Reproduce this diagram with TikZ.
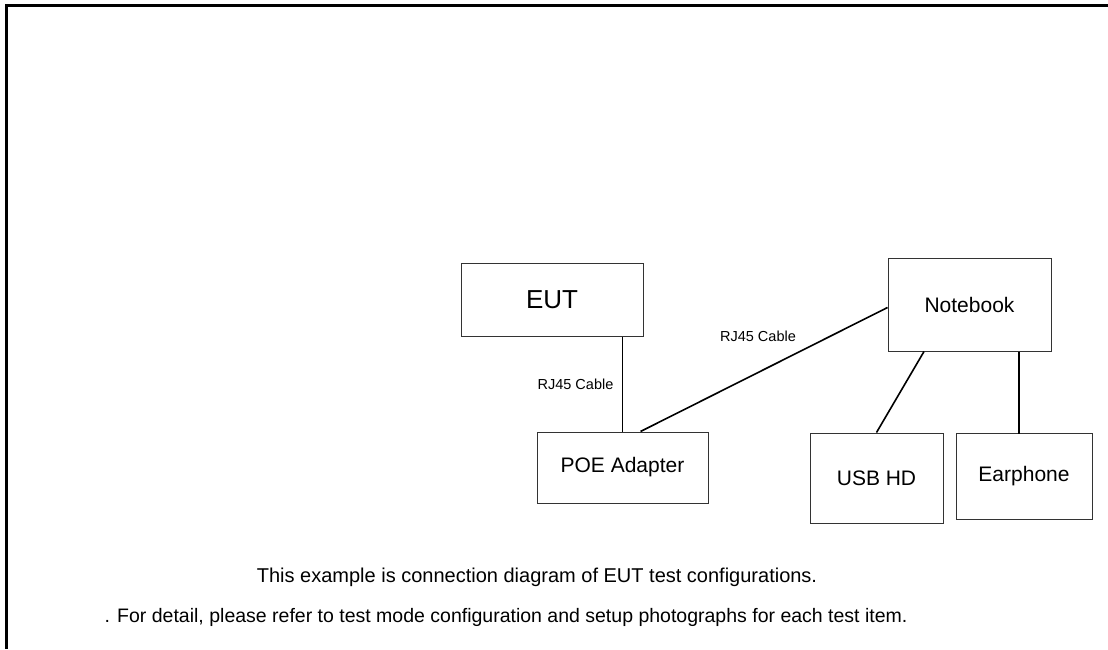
\documentclass[tikz,border=0pt]{standalone}
\usepackage{fontspec}
\setmainfont{Liberation Sans}
\usepackage{tikz}
\usepackage{xcolor}

\begin{document}
\begin{tikzpicture}[x=1pt, y=-1pt,
  unit/.style={rectangle, draw=black!80, line width=1pt, inner sep=0pt, font=\fontsize{21}{25}\selectfont},
  cable/.style={line width=1.6pt},
  tag/.style={font=\fontsize{14.5}{17}\selectfont},
  note/.style={font=\fontsize{20}{24}\selectfont}]
\useasboundingbox (0,0) rectangle (1108,649);
\draw[line width=2.8pt] (5,5.3) -- (1108,5.3);
\draw[line width=2.8pt] (6.5,5.3) -- (6.5,649);

\node[unit, minimum width=182pt, minimum height=73pt, font=\fontsize{26}{30}\selectfont] (eut) at (552,299.5) {EUT};
\node[unit, minimum width=171pt, minimum height=71pt] (poe) at (622.5,467.5) {POE Adapter};
\node[unit, minimum width=163pt, minimum height=93pt] (notebook) at (969.5,304.5) {Notebook};
\node[unit, minimum width=133pt, minimum height=90pt] (usb) at (876.5,478) {USB HD};
\node[unit, minimum width=136pt, minimum height=86pt] (earphone) at (1024,476) {Earphone};

\draw[cable] (poe.north |- eut.south) -- node[tag, left=5pt] {RJ45 Cable} (poe.north);
\draw[cable] ([xshift=18pt]poe.north) -- node[tag, midway, yshift=33pt, xshift=-6pt] {RJ45 Cable} ([yshift=-3pt]notebook.west);
\draw[cable] ([xshift=-45.5pt]notebook.south) -- (usb.north);
\draw[cable] ([xshift=-5pt]earphone.north |- notebook.south) -- ([xshift=-5pt, yshift=-1pt]earphone.north);

\node[note] (caption) at (537,577) {This example is connection diagram of EUT test configurations.};
\node[note, font=\fontsize{19.5}{23}\selectfont] (remark) at (506,617) {. For detail, please refer to test mode configuration and setup photographs for each test item.};
\end{tikzpicture}
\end{document}
